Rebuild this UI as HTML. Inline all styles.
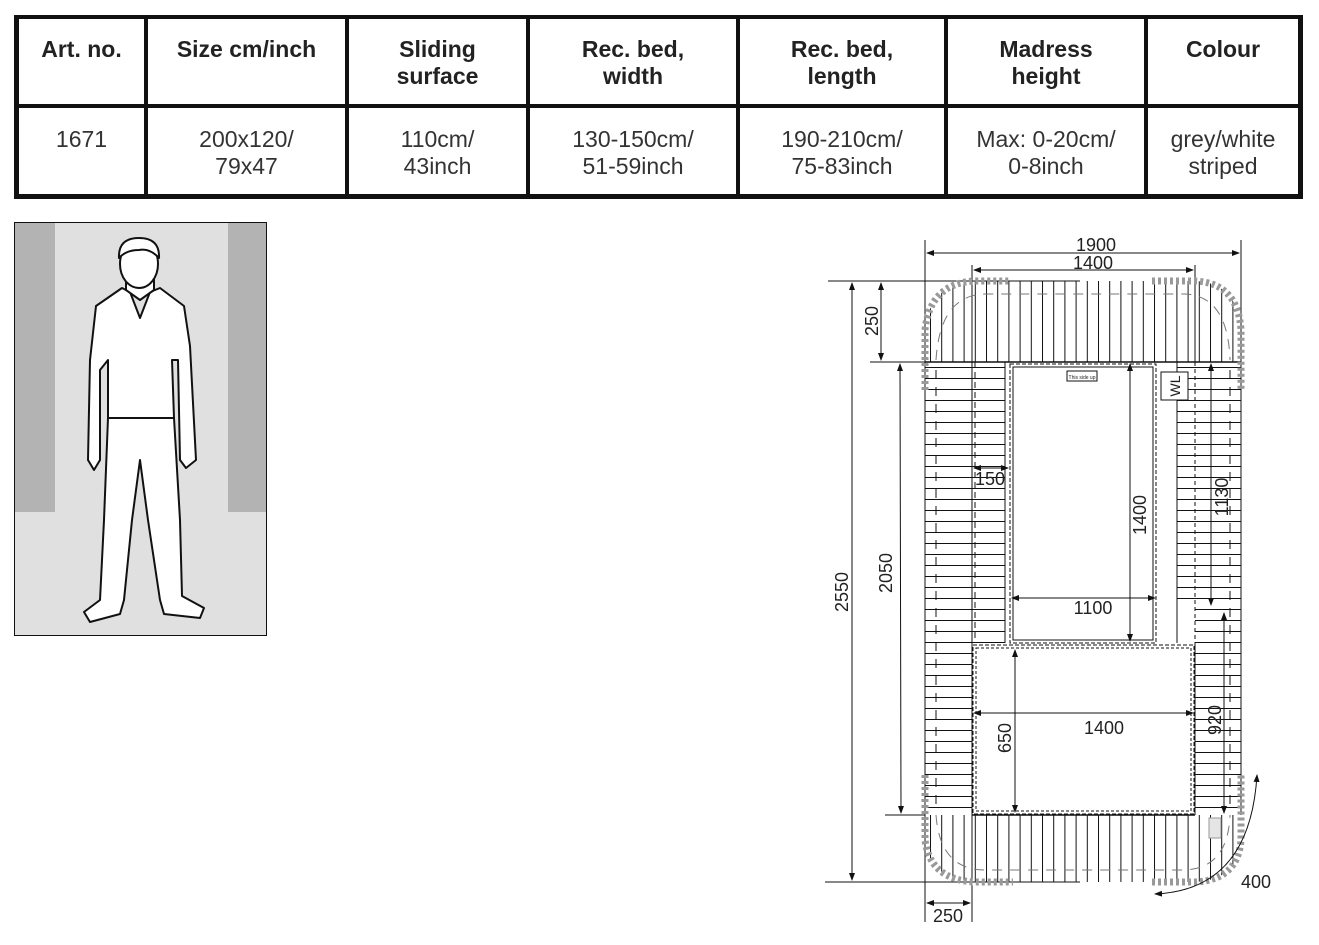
<!DOCTYPE html>
<html><head><meta charset="utf-8"><style>
body{margin:0;background:#fff;width:1319px;height:945px;overflow:hidden;font-family:"Liberation Sans",sans-serif;}
.c{position:absolute;text-align:center;font-size:23px;line-height:27px;color:#222;}
.h{font-weight:bold;top:36px;}
.b{top:126px;color:#333;}
.bar{position:absolute;background:#111;}
</style></head><body>
<div class="bar" style="left:14px;top:15px;width:1289px;height:4px"></div>
<div class="bar" style="left:14px;top:104px;width:1289px;height:4px"></div>
<div class="bar" style="left:14px;top:194px;width:1289px;height:5px"></div>
<div class="bar" style="left:14px;top:15px;width:5px;height:184px"></div>
<div class="bar" style="left:144px;top:15px;width:4px;height:184px"></div>
<div class="bar" style="left:345px;top:15px;width:4px;height:184px"></div>
<div class="bar" style="left:526px;top:15px;width:4px;height:184px"></div>
<div class="bar" style="left:736px;top:15px;width:4px;height:184px"></div>
<div class="bar" style="left:944px;top:15px;width:4px;height:184px"></div>
<div class="bar" style="left:1144px;top:15px;width:4px;height:184px"></div>
<div class="bar" style="left:1298px;top:15px;width:5px;height:184px"></div>
<div class="c h" style="left:19px;width:125px">Art. no.</div>
<div class="c h" style="left:148px;width:197px">Size cm/inch</div>
<div class="c h" style="left:349px;width:177px">Sliding<br>surface</div>
<div class="c h" style="left:530px;width:206px">Rec. bed,<br>width</div>
<div class="c h" style="left:740px;width:204px">Rec. bed,<br>length</div>
<div class="c h" style="left:948px;width:196px">Madress<br>height</div>
<div class="c h" style="left:1148px;width:150px">Colour</div>
<div class="c b" style="left:19px;width:125px">1671</div>
<div class="c b" style="left:148px;width:197px">200x120/<br>79x47</div>
<div class="c b" style="left:349px;width:177px">110cm/<br>43inch</div>
<div class="c b" style="left:530px;width:206px">130-150cm/<br>51-59inch</div>
<div class="c b" style="left:740px;width:204px">190-210cm/<br>75-83inch</div>
<div class="c b" style="left:948px;width:196px">Max: 0-20cm/<br>0-8inch</div>
<div class="c b" style="left:1148px;width:150px">grey/white<br>striped</div>
<svg width="1319" height="945" style="position:absolute;left:0;top:0" font-family="Liberation Sans, sans-serif">
<defs>
<pattern id="hl" width="20" height="11" patternUnits="userSpaceOnUse" y="367"><line x1="0" y1="0.5" x2="20" y2="0.5" stroke="#111" stroke-width="1"/></pattern>
<pattern id="vl" width="11.2" height="20" patternUnits="userSpaceOnUse" x="930"><line x1="0.5" y1="0" x2="0.5" y2="20" stroke="#111" stroke-width="1"/></pattern>
<marker id="a" markerWidth="8" markerHeight="8" refX="7" refY="4" orient="auto"><path d="M0,1 L8,4 L0,7z" fill="#111"/></marker>
<marker id="s" markerWidth="8" markerHeight="8" refX="1" refY="4" orient="auto"><path d="M8,1 L0,4 L8,7z" fill="#111"/></marker>
</defs>
<rect x="14.5" y="222.5" width="252" height="413" fill="#e0e0e0" stroke="#111"/>
<rect x="15" y="223" width="40" height="289" fill="#b3b3b3"/>
<rect x="228" y="223" width="38" height="289" fill="#b3b3b3"/>
<g fill="#fff" stroke="#111" stroke-width="2" stroke-linejoin="round">
<path d="M108,418 L104,520 L100,600 L84,612 L90,622 L120,614 L124,600 L132,520 L140,460 L148,520 L160,600 L164,614 L200,618 L204,608 L182,596 L180,520 L174,418 Z"/>
<path d="M122,288 L96,306 L90,360 L88,460 L94,470 L100,460 L100,370 L108,360 L108,418 L174,418 L172,360 L178,360 L180,460 L186,468 L196,460 L190,346 L184,306 L160,288 L150,292 L140,318 L130,292 Z"/>
<path d="M126,266 L126,290 L140,300 L154,290 L154,266 Z"/>
<ellipse cx="139" cy="264" rx="19" ry="24"/>
<path d="M119,258 Q118,238 139,238 Q160,238 159,258 Q150,248 139,250 Q126,250 119,258Z" fill="#fff"/>
</g>
<g stroke="#111" fill="none">
<rect x="925" y="367" width="80" height="276" fill="url(#hl)" stroke="none"/>
<rect x="925" y="643" width="47" height="170" fill="url(#hl)" stroke="none"/>
<rect x="1177" y="367" width="64" height="240" fill="url(#hl)" stroke="none"/>
<rect x="1195" y="607" width="46" height="206" fill="url(#hl)" stroke="none"/>
<path d="M925,362 L925,330 Q930,283 975,281 L1195,281 Q1238,283 1241,330 L1241,362 Z" fill="url(#vl)" stroke="none"/>
<path d="M925,815 L925,840 Q930,880 975,882 L1195,882 Q1238,880 1241,840 L1241,815 Z" fill="url(#vl)" stroke="none"/>
<line x1="925" y1="240" x2="925" y2="922"/>
<line x1="1241" y1="240" x2="1241" y2="815"/>
<line x1="972" y1="265" x2="972" y2="922"/>
<line x1="1195" y1="265" x2="1195" y2="362"/>
<line x1="1195" y1="643" x2="1195" y2="815"/>
<line x1="925" y1="362" x2="1241" y2="362" stroke-width="1.5"/>
<line x1="972" y1="815" x2="1195" y2="815" stroke-width="1.5"/>
<line x1="828" y1="281" x2="1080" y2="281"/>
<line x1="870" y1="362" x2="925" y2="362"/>
<line x1="885" y1="815" x2="925" y2="815"/>
<line x1="825" y1="882" x2="1080" y2="882"/>
<rect x="1010" y="364" width="146" height="279" stroke-dasharray="4,2"/>
<rect x="1013" y="367" width="140" height="273"/>
<rect x="973" y="645" width="221" height="169" stroke-dasharray="4,2"/>
<rect x="976" y="648" width="215" height="163" stroke-dasharray="3,2"/>
<line x1="1005" y1="362" x2="1005" y2="643"/>
<line x1="1177" y1="362" x2="1177" y2="643"/>
<line x1="1195" y1="362" x2="1195" y2="643" stroke-dasharray="4,3"/>
<line x1="975" y1="362" x2="975" y2="643" stroke-dasharray="6,4"/>
<line x1="936" y1="370" x2="936" y2="810" stroke-dasharray="9,8"/>
<line x1="1230" y1="370" x2="1230" y2="810" stroke-dasharray="9,8"/>
<path d="M936,360 Q940,295 985,294 L1185,294 Q1228,296 1230,360" stroke="#777" stroke-dasharray="10,8"/>
<path d="M936,815 Q940,870 985,870 L1185,870 Q1228,868 1230,815" stroke="#777" stroke-dasharray="10,8"/>
<path d="M925,390 L925,330 Q930,283 975,281 L1010,281" stroke="#999" stroke-width="7" stroke-dasharray="3,3"/>
<path d="M1152,281 L1195,281 Q1238,283 1241,330 L1241,390" stroke="#999" stroke-width="7" stroke-dasharray="3,3"/>
<path d="M925,775 L925,840 Q930,880 975,882 L1013,882" stroke="#999" stroke-width="7" stroke-dasharray="3,3"/>
<path d="M1152,882 L1195,882 Q1238,880 1241,840 L1241,775" stroke="#999" stroke-width="7" stroke-dasharray="3,3"/>
<rect x="1209" y="818" width="12" height="20" fill="#e5e5e5" stroke="#999"/>
<rect x="1161" y="372" width="27" height="28" fill="#fff"/>
<rect x="1067" y="371" width="30" height="10" fill="#fff"/>
<line x1="927" y1="253" x2="1239" y2="253" marker-end="url(#a)" marker-start="url(#s)"/>
<line x1="974" y1="270" x2="1193" y2="270" marker-end="url(#a)" marker-start="url(#s)"/>
<line x1="852" y1="283" x2="852" y2="880" marker-end="url(#a)" marker-start="url(#s)"/>
<line x1="881" y1="283" x2="881" y2="360" marker-end="url(#a)" marker-start="url(#s)"/>
<line x1="900" y1="364" x2="901" y2="813" marker-end="url(#a)" marker-start="url(#s)"/>
<line x1="974" y1="468" x2="1008" y2="468" marker-end="url(#a)" marker-start="url(#s)"/>
<line x1="1130" y1="364" x2="1130" y2="641" marker-end="url(#a)" marker-start="url(#s)"/>
<line x1="1012" y1="598" x2="1155" y2="598" marker-end="url(#a)" marker-start="url(#s)"/>
<line x1="1211" y1="364" x2="1211" y2="605" marker-end="url(#a)" marker-start="url(#s)"/>
<line x1="1015" y1="650" x2="1015" y2="812" marker-end="url(#a)" marker-start="url(#s)"/>
<line x1="974" y1="713" x2="1193" y2="713" marker-end="url(#a)" marker-start="url(#s)"/>
<line x1="1224" y1="613" x2="1224" y2="813" marker-end="url(#a)" marker-start="url(#s)"/>
<line x1="927" y1="903" x2="970" y2="903" marker-end="url(#a)" marker-start="url(#s)"/>
<path d="M1257,775 Q1250,890 1155,894" marker-end="url(#a)" marker-start="url(#s)"/>
</g>
<g font-size="18" fill="#222">
<text x="1096" y="251" text-anchor="middle">1900</text>
<text x="1093" y="269" text-anchor="middle">1400</text>
<text x="990" y="485" text-anchor="middle">150</text>
<text x="1093" y="614" text-anchor="middle">1100</text>
<text x="1104" y="734" text-anchor="middle">1400</text>
<text x="948" y="922" text-anchor="middle">250</text>
<text x="1256" y="888" text-anchor="middle">400</text>
<text transform="translate(848,592) rotate(-90)" text-anchor="middle">2550</text>
<text transform="translate(878,321) rotate(-90)" text-anchor="middle">250</text>
<text transform="translate(892,573) rotate(-90)" text-anchor="middle">2050</text>
<text transform="translate(1146,515) rotate(-90)" text-anchor="middle">1400</text>
<text transform="translate(1228,497) rotate(-90)" text-anchor="middle">1130</text>
<text transform="translate(1011,738) rotate(-90)" text-anchor="middle">650</text>
<text transform="translate(1221,720) rotate(-90)" text-anchor="middle">920</text>
<text transform="translate(1180,386) rotate(-90)" text-anchor="middle" font-size="14">WL</text>
<text x="1082" y="379" text-anchor="middle" font-size="5">This side up</text>
</g>
</svg>
</body></html>
